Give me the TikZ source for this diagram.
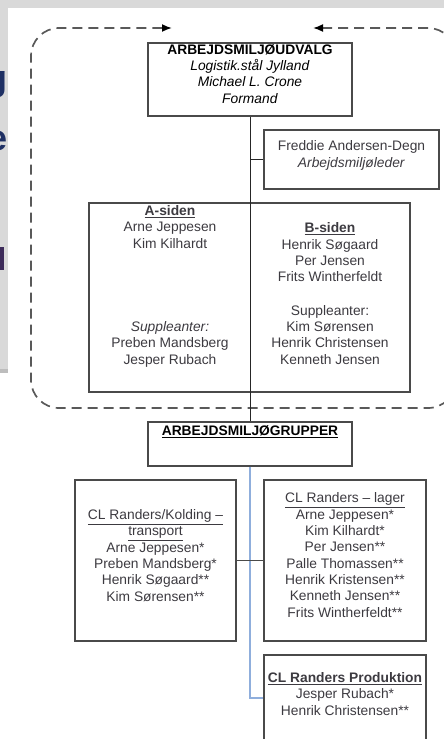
\documentclass[tikz,border=0pt]{standalone}
\usepackage{fontspec}
\setmainfont{Liberation Sans}
\usetikzlibrary{arrows.meta}
\definecolor{slidegray}{HTML}{D9D9D9}
\definecolor{slideedge}{HTML}{BDBDBD}
\definecolor{slidenavy}{HTML}{1F3064}
\definecolor{slideplum}{HTML}{3D2B5A}
\definecolor{boxline}{HTML}{4A4A4A}
\definecolor{nametext}{HTML}{3C3A40}
\definecolor{linkblue}{HTML}{8FAEDC}
\tikzset{
  orgbox/.style 2 args={draw=boxline, line width=1.4pt, minimum width=#1, minimum height=#2, inner sep=0pt},
  names/.style={align=center, inner sep=0pt, anchor=base, text=nametext, font=\fontsize{13.8}{16.3}\selectfont},
  orgline/.style={draw=black!85, line width=1pt},
  dashframe/.style={draw=black!65, line width=1.7pt, dash pattern=on 10pt off 6pt, rounded corners=28pt},
  slideletter/.style={anchor=base east, inner sep=0pt, text=slidenavy, font=\fontsize{36}{40}\bfseries\selectfont},
}

\begin{document}
\begin{tikzpicture}[x=1pt,y=-1pt]
  \useasboundingbox (0,0) rectangle (444,739);

  \begin{scope}
    \fill[slidegray] (0,0) rectangle (444,8);
    \fill[slidegray] (0,0) rectangle (8,369);
    \fill[slideedge] (0,369) rectangle (8,373);
    \node (slideg) [slideletter] at (8,90) {g};
    \node (slidee) [slideletter] at (8,150) {e};
    \fill[slideplum] (0,247) rectangle (4,270);
  \end{scope}

  % multi-line texts sit on the baseline of their last line
  \begin{scope}
    \draw[dashframe, {Latex[length=10pt,width=8pt,black]}-{Latex[length=10pt,width=8pt,black]}]
      (313,28) -- (456,28) -- (456,408) -- (31,408) -- (31,28) -- (172,28);

    \node (top) [orgbox={204pt}{73pt}] at (250,79.5) {};
    \node (topt) [names, text=black] at (250,103)
      {\textbf{ARBEJDSMILJØUDVALG}\\ \textit{Logistik.stål Jylland}\\ \textit{Michael L. Crone}\\ \textit{Formand}};

    \node (fred) [orgbox={175pt}{59pt}] at (351.5,159.5) {};
    \node (fredt) [names] at (351.5,167) {Freddie Andersen-Degn\\ \textit{Arbejdsmiljøleder}};

    \node (sider) [orgbox={321pt}{189pt}] at (249.5,297.5) {};
    \node (aside) [names] at (170,364)
      {\textbf{\underline{A-siden}}\\ Arne Jeppesen\\ Kim Kilhardt\\[67pt]
       \textit{Suppleanter:}\\ Preben Mandsberg\\ Jesper Rubach};
    \node (bside) [names] at (330,364)
      {\textbf{\underline{B-siden}}\\ Henrik Søgaard\\ Per Jensen\\ Frits Wintherfeldt\\[17pt]
       Suppleanter:\\ Kim Sørensen\\ Henrik Christensen\\ Kenneth Jensen};
  \end{scope}

  \begin{scope}
    \node (grp) [orgbox={204pt}{44pt}] at (250,444) {};
    \node (grpt) [names, text=black] at (250,435) {\textbf{\underline{ARBEJDSMILJØGRUPPER}}};

    \node (kold) [orgbox={161pt}{161pt}] at (155.5,560.5) {};
    \node (koldt) [names] at (155.5,601)
      {\underline{CL Randers/Kolding –}\\ \underline{transport}\\ Arne Jeppesen*\\ Preben Mandsberg*\\
       Henrik Søgaard**\\ Kim Sørensen**};

    \node (lager) [orgbox={162pt}{161pt}] at (345,560.5) {};
    \node (lagert) [names] at (345,617)
      {\underline{CL Randers – lager}\\ Arne Jeppesen*\\ Kim Kilhardt*\\ Per Jensen**\\ Palle Thomassen**\\
       Henrik Kristensen**\\ Kenneth Jensen**\\ Frits Wintherfeldt**};

    \node (prod) [orgbox={162pt}{86pt}] at (345,698) {};
    \node (prodt) [names] at (345,715)
      {\textbf{\underline{CL Randers Produktion}}\\ Jesper Rubach*\\ Henrik Christensen**};
  \end{scope}

  \draw[orgline] (top.south) -- (grp.north);
  \draw[orgline] (top.south |- fred.west) -- (fred.west);
  \draw[linkblue, line width=1.3pt] (grp.south) |- (prod.west);
  \draw[draw=boxline, line width=1.3pt] (kold.east) -- (lager.west);
\end{tikzpicture}
\end{document}
